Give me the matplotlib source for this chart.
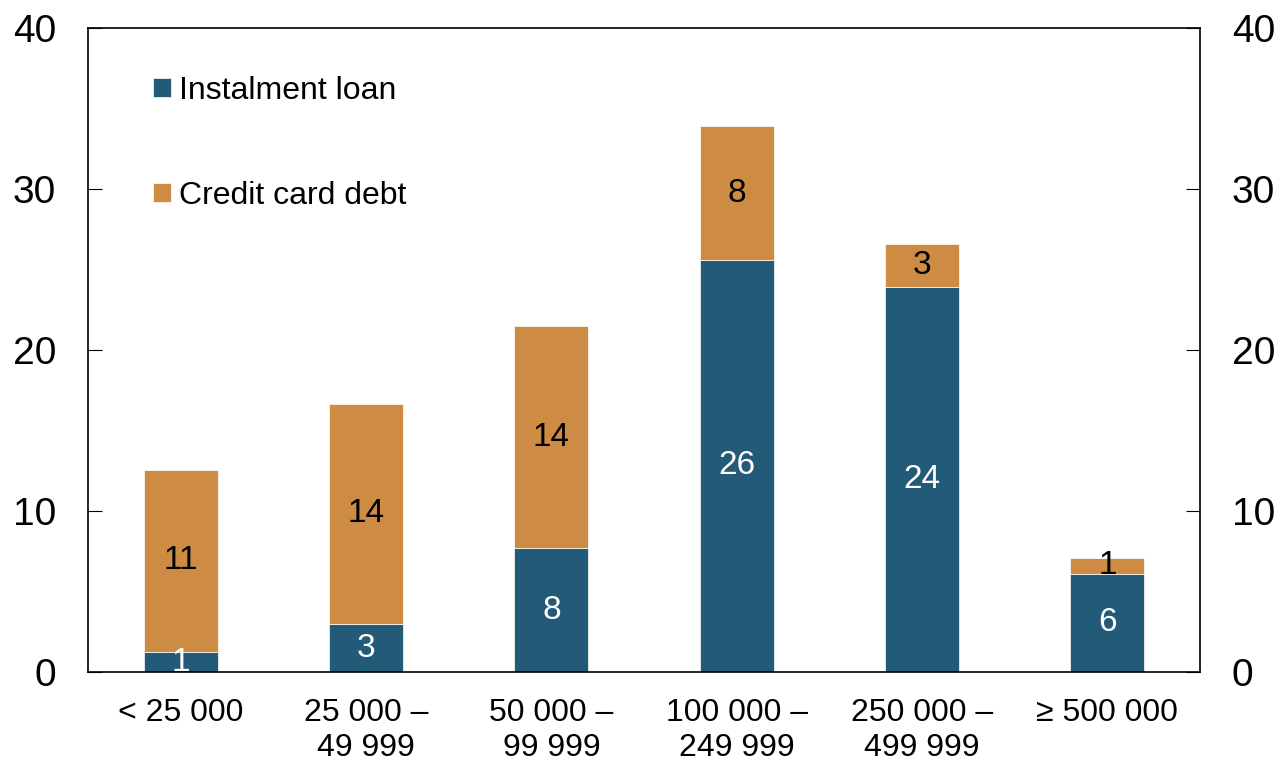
import matplotlib.pyplot as plt
import numpy as np

plt.rcParams['font.family'] = ['Liberation Sans', 'DejaVu Sans']

# income groups and share of borrowers (per cent)
groups = ["< 25 000", "25 000 –\n49 999", "50 000 –\n99 999",
          "100 000 –\n249 999", "250 000 –\n499 999", "≥ 500 000"]
instalment = [1.24, 2.98, 7.70, 25.59, 23.91, 6.09]
credit_card = [11.31, 13.67, 13.79, 8.32, 2.67, 0.99]

blue = "#235a78"
orange = "#cd8b43"

fig = plt.figure(figsize=(12.81, 7.64), dpi=100)
ax = fig.add_axes([0.0687, 0.1204, 0.8681, 0.843])

x = np.arange(len(groups))
b1 = ax.bar(x, instalment, width=0.4, color=blue, edgecolor="white",
            linewidth=0.5, label="Instalment loan")
b2 = ax.bar(x, credit_card, width=0.4, bottom=instalment, color=orange,
            edgecolor="white", linewidth=0.5, label="Credit card debt")

ax.bar_label(b1, labels=[f"{v:.0f}" for v in instalment], label_type="center",
             color="white", fontsize=24)
ax.bar_label(b2, labels=[f"{v:.0f}" for v in credit_card], label_type="center",
             color="black", fontsize=24)

ax.set_xlim(-0.5, 5.5)
ax.set_ylim(0, 40)
ax.set_yticks([0, 10, 20, 30, 40])
ax.set_xticks(x)
ax.set_xticklabels(groups, fontsize=23)
ax.tick_params(axis="x", length=0, pad=19)
ax.tick_params(axis="y", direction="in", length=10, labelsize=28,
               left=True, right=True, labelleft=True, labelright=True, pad=23)
for s in ax.spines.values():
    s.set_linewidth(1.2)

ax.legend(loc="upper left", bbox_to_anchor=(0.0585, 0.926), frameon=False,
          fontsize=23, handlelength=0.55, handleheight=0.55,
          handletextpad=0.25, labelspacing=2.35, borderpad=0, borderaxespad=0)

fig.savefig("out.png", dpi=100)
